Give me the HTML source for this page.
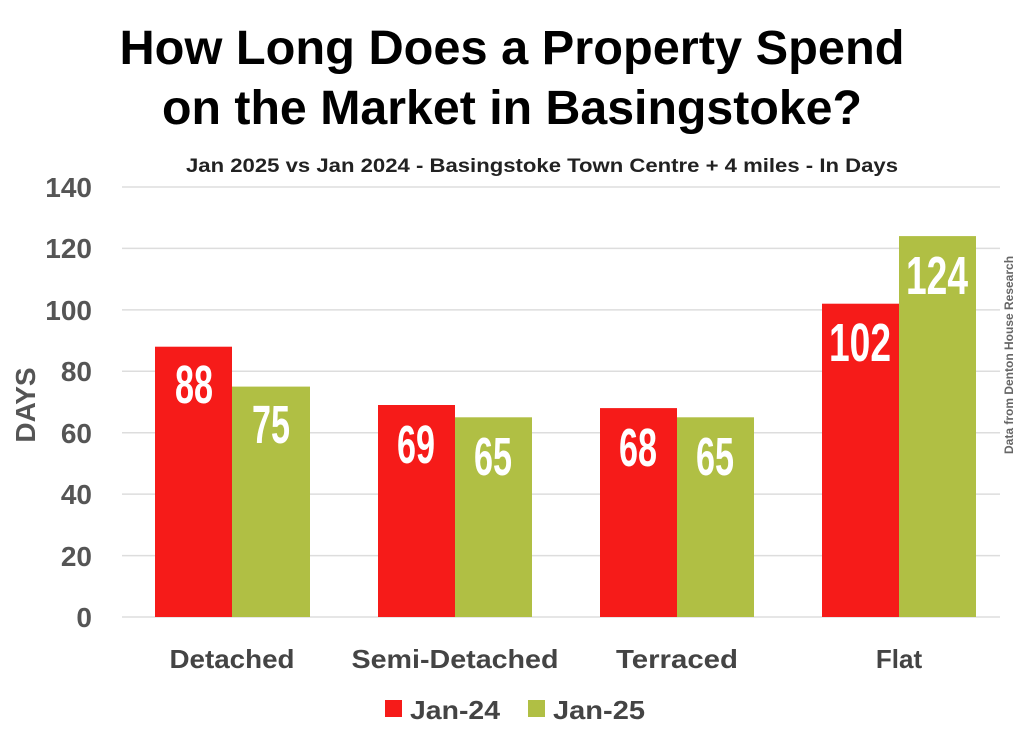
<!DOCTYPE html>
<html><head><meta charset="utf-8"><style>
html,body{margin:0;padding:0;background:#fff;}
svg{display:block;}
.t{font-family:"Liberation Sans",sans-serif;font-weight:bold;}
</style></head><body>
<svg width="1024" height="741" viewBox="0 0 1024 741">
<text class="t" x="512" y="64" text-anchor="middle" font-size="48" fill="#000" textLength="785" lengthAdjust="spacingAndGlyphs">How Long Does a Property Spend</text>
<text class="t" x="512" y="124" text-anchor="middle" font-size="48" fill="#000" textLength="700" lengthAdjust="spacingAndGlyphs">on the Market in Basingstoke?</text>
<text class="t" x="542" y="172" text-anchor="middle" font-size="19" fill="#222" textLength="712" lengthAdjust="spacingAndGlyphs">Jan 2025 vs Jan 2024 - Basingstoke Town Centre + 4 miles - In Days</text>
<g stroke="#ddd" stroke-width="1.5">
<line x1="122" x2="1000" y1="187" y2="187"/><line x1="122" x2="1000" y1="248.4" y2="248.4"/>
<line x1="122" x2="1000" y1="309.9" y2="309.9"/><line x1="122" x2="1000" y1="371.3" y2="371.3"/>
<line x1="122" x2="1000" y1="432.7" y2="432.7"/><line x1="122" x2="1000" y1="494.1" y2="494.1"/>
<line x1="122" x2="1000" y1="555.6" y2="555.6"/><line x1="122" x2="1000" y1="617" y2="617"/>
</g>
<g class="t" font-size="28" fill="#555" text-anchor="end">
<text x="92" y="197">140</text><text x="92" y="258">120</text><text x="92" y="320">100</text>
<text x="92" y="381">80</text><text x="92" y="443">60</text><text x="92" y="504">40</text>
<text x="92" y="566">20</text><text x="92" y="627">0</text>
</g>
<text class="t" transform="translate(35,405) rotate(-90)" text-anchor="middle" font-size="28" fill="#555">DAYS</text>
<g fill="#f61b19">
<rect x="155" y="346.7" width="77" height="270.3"/><rect x="378" y="405" width="77" height="212"/>
<rect x="600" y="408.1" width="77" height="208.9"/><rect x="822" y="303.7" width="77" height="313.3"/>
</g>
<g fill="#b0bf44">
<rect x="232" y="386.6" width="78" height="230.4"/><rect x="455" y="417.3" width="77" height="199.7"/>
<rect x="677" y="417.3" width="77" height="199.7"/><rect x="899" y="236.1" width="77" height="380.9"/>
</g>
<g class="t" font-size="54" fill="#fff" text-anchor="middle" lengthAdjust="spacingAndGlyphs">
<text x="194" y="403" textLength="38" lengthAdjust="spacingAndGlyphs">88</text>
<text x="271" y="443" textLength="38" lengthAdjust="spacingAndGlyphs">75</text>
<text x="416" y="463" textLength="38" lengthAdjust="spacingAndGlyphs">69</text>
<text x="493" y="475" textLength="38" lengthAdjust="spacingAndGlyphs">65</text>
<text x="638" y="466" textLength="38" lengthAdjust="spacingAndGlyphs">68</text>
<text x="715" y="475" textLength="38" lengthAdjust="spacingAndGlyphs">65</text>
<text x="860" y="361" textLength="62" lengthAdjust="spacingAndGlyphs">102</text>
<text x="937" y="294" textLength="62" lengthAdjust="spacingAndGlyphs">124</text>
</g>
<g class="t" font-size="26" fill="#444" text-anchor="middle">
<text x="232" y="668" textLength="125" lengthAdjust="spacingAndGlyphs">Detached</text>
<text x="455" y="668" textLength="207" lengthAdjust="spacingAndGlyphs">Semi-Detached</text>
<text x="677" y="668" textLength="122" lengthAdjust="spacingAndGlyphs">Terraced</text>
<text x="899" y="668">Flat</text>
</g>
<rect x="385" y="700" width="17" height="17" fill="#f61b19"/>
<text class="t" x="410" y="719" font-size="26" fill="#444" textLength="90" lengthAdjust="spacingAndGlyphs">Jan-24</text>
<rect x="528" y="700" width="17" height="17" fill="#b0bf44"/>
<text class="t" x="553" y="719" font-size="26" fill="#444" textLength="92" lengthAdjust="spacingAndGlyphs">Jan-25</text>
<text class="t" transform="translate(1013,355) rotate(-90)" text-anchor="middle" font-size="12" fill="#666" font-weight="normal">Data from Denton House Research</text>
</svg>
</body></html>
